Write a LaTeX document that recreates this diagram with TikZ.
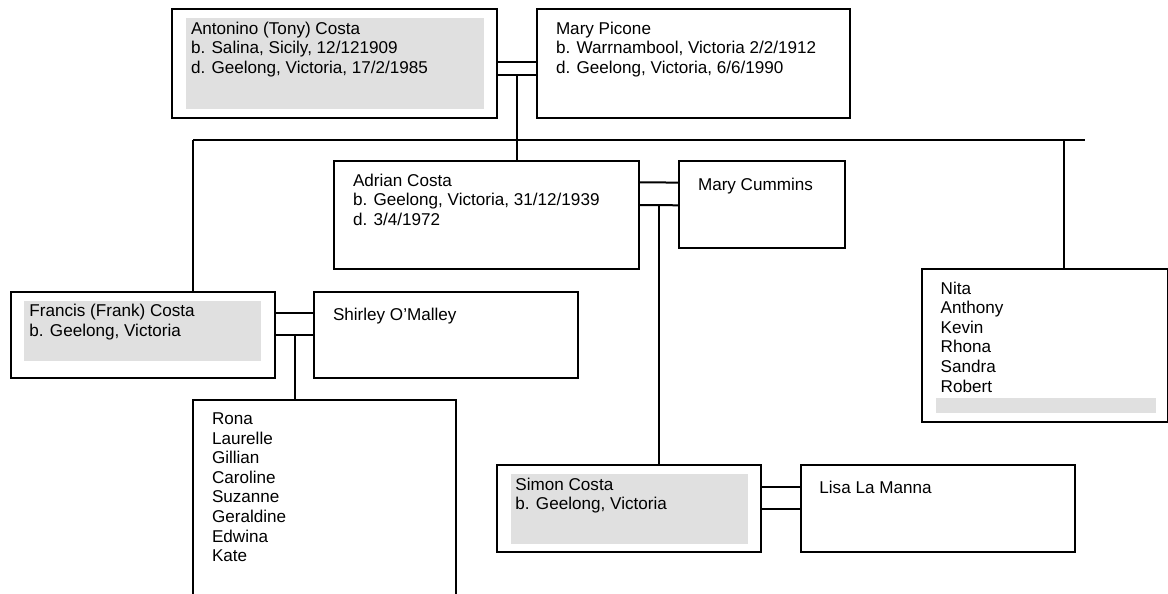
\documentclass[tikz,border=0pt]{standalone}
\usepackage{fontspec}
\setmainfont{Liberation Sans}
\usetikzlibrary{calc}
\definecolor{shade}{RGB}{224,224,224}
\begin{document}
\begin{tikzpicture}[x=1pt,y=-1pt,
  box/.style={draw, line width=2pt, rectangle, inner sep=0pt, outer sep=0pt, anchor=north west},
  txt/.style={anchor=north west, align=left, inner sep=0pt, font=\fontsize{17.1}{19.6}\selectfont,
    execute at begin node={\rule{0pt}{16pt}}},
  link/.style={line width=2pt},
  shadefill/.style={fill=shade}]
\useasboundingbox (0,0) rectangle (1168,594);
\clip (0,0) rectangle (1168,594);
\fill[white] (0,0) rectangle (1168,594);

% boxes
\node[box, minimum width=325pt, minimum height=108.7pt] (tony) at (172.3,9) {};
\node[box, minimum width=312.7pt, minimum height=108.7pt] (picone) at (537.3,9) {};
\node[box, minimum width=305pt, minimum height=108.3pt] (adrian) at (334.3,161) {};
\node[box, minimum width=166pt, minimum height=87pt] (cummins) at (679.3,161.3) {};
\node[box, minimum width=264.3pt, minimum height=86.6pt] (frank) at (10.7,291.7) {};
\node[box, minimum width=264pt, minimum height=86.6pt] (shirley) at (314.3,291.7) {};
\node[box, minimum width=263pt, minimum height=220pt] (kidsf) at (193.3,400) {};
\node[box, minimum width=245.7pt, minimum height=152.7pt] (nita) at (922,269) {};
\node[box, minimum width=264pt, minimum height=87pt] (simon) at (496.7,465) {};
\node[box, minimum width=274.3pt, minimum height=87.3pt] (lisa) at (800.7,465) {};

% grey shading
\fill[shadefill] ($(tony.north west)+(14,9)$) rectangle ($(tony.south east)+(-13,-9)$);
\fill[shadefill] ($(frank.north west)+(13.3,9.3)$) rectangle ($(frank.south east)+(-14,-17.6)$);
\fill[shadefill] ($(simon.north west)+(14.3,9)$) rectangle ($(simon.south east)+(-12.7,-8.3)$);
\fill[shadefill] ($(nita.south west)+(14,-23.7)$) rectangle ($(nita.south east)+(-11.7,-8.7)$);

% texts
\node[txt] (tonyT) at ($(tony.north west)+(18.5,12.5)$) {Antonino (Tony) Costa\\b. Salina, Sicily, 12/121909\\d. Geelong, Victoria, 17/2/1985};
\node[txt] (piconeT) at ($(picone.north west)+(18.5,12.5)$) {Mary Picone\\b. Warrnambool, Victoria 2/2/1912\\d. Geelong, Victoria, 6/6/1990};
\node[txt] (adrianT) at ($(adrian.north west)+(18.5,12.5)$) {Adrian Costa\\b. Geelong, Victoria, 31/12/1939\\d. 3/4/1972};
\node[txt] (cumminsT) at ($(cummins.north west)+(18.5,12.5)$) {Mary Cummins};
\node[txt] (frankT) at ($(frank.north west)+(18.5,12.5)$) {Francis (Frank) Costa\\b. Geelong, Victoria};
\node[txt] (shirleyT) at ($(shirley.north west)+(18.5,12.5)$) {Shirley O’Malley};
\node[txt] (kidsfT) at ($(kidsf.north west)+(18.5,12.5)$) {Rona\\Laurelle\\Gillian\\Caroline\\Suzanne\\Geraldine\\Edwina\\Kate};
\node[txt] (nitaT) at ($(nita.north west)+(18.5,12.5)$) {Nita\\Anthony\\Kevin\\Rhona\\Sandra\\Robert};
\node[txt] (simonT) at ($(simon.north west)+(18.5,12.5)$) {Simon Costa\\b. Geelong, Victoria};
\node[txt] (lisaT) at ($(lisa.north west)+(18.5,12.5)$) {Lisa La Manna};

% marriage links
\draw[link] ($(tony.north east)+(0,52.7)$) -- ($(picone.north west)+(0,52.7)$);
\draw[link] ($(tony.north east)+(0,65.7)$) -- ($(picone.north west)+(0,65.7)$);
\draw[link] ($(adrian.north east)+(0,21.3)$) -- ($(cummins.north west)+(0,21.3)$);
\draw[link] ($(adrian.north east)+(0,44)$) -- ($(cummins.north west)+(0,44)$);
\draw[link] ($(frank.north east)+(0,21)$) -- ($(shirley.north west)+(0,21)$);
\draw[link] ($(frank.north east)+(0,43.6)$) -- ($(shirley.north west)+(0,43.6)$);
\draw[link] ($(simon.north east)+(0,22.3)$) -- ($(lisa.north west)+(0,22.3)$);
\draw[link] ($(simon.north east)+(0,44)$) -- ($(lisa.north west)+(0,44)$);

% descent
\coordinate (m1) at ($(tony.north east)!0.5!(picone.north west)+(0,65.7)$);
\coordinate (m2) at ($(adrian.north east)!0.5!(cummins.north west)+(0,44)$);
\coordinate (m3) at ($(frank.north east)!0.5!(shirley.north west)+(0,43.6)$);
\coordinate (barL) at (193.3,139.5);
\coordinate (barR) at (1085,139.5);
\coordinate (nitaDrop) at (1064.3,139.5);
\draw[link] (barL) -- (barR);
\draw[link] (m1) -- (m1 |- adrian.north);
\draw[link] (barL) -- (barL |- frank.north);
\draw[link] (nitaDrop) -- (nitaDrop |- nita.north);
\draw[link] (m2) -- (m2 |- simon.north);
\draw[link] (m3) -- (m3 |- kidsf.north);
\end{tikzpicture}
\end{document}
